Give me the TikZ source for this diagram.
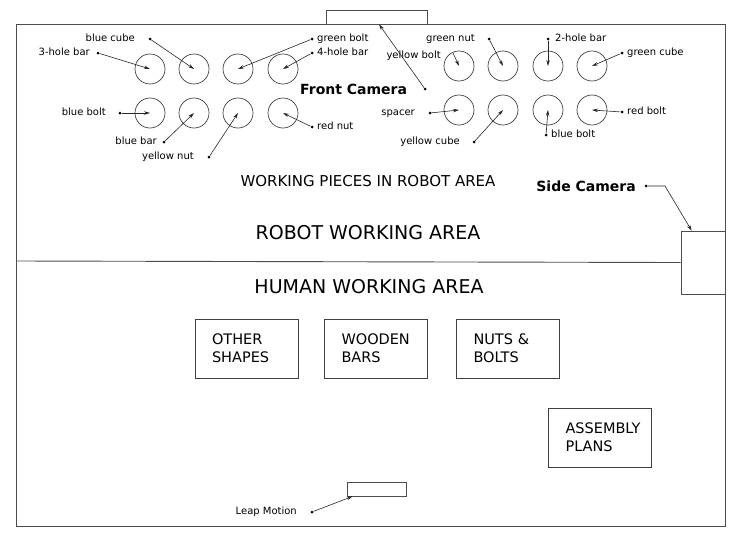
\documentclass[tikz,border=0pt]{standalone}
\usepackage{fontspec}
\setmainfont{DejaVu Sans}
\usetikzlibrary{arrows.meta}

\begin{document}
\begin{tikzpicture}[x=1pt, y=-1pt, >={Stealth[length=6pt, width=3.5pt]}]
        \tikzset{%
         every piece/.style={
            circle,
            draw=black!75,
            line width=0.7pt,
            minimum size=30pt,
            inner sep=0pt},
         piece label/.style={
            font=\fontsize{10}{12}\selectfont,
            inner sep=0pt,
            text height=7.5pt,
            text depth=2pt},
         pin dot/.style={
            circle,
            fill=black,
            inner sep=0pt,
            minimum size=3pt},
         area title/.style={
            font=\fontsize{19}{22}\selectfont},
         camera label/.style={
            font=\fontsize{14}{16}\selectfont\bfseries,
            inner sep=0pt},
         tray/.style={
            draw=black!75,
            line width=0.7pt,
            align=left,
            text width=69pt,
            inner xsep=17pt,
            minimum height=59pt,
            font=\fontsize{14.5}{18}\selectfont},
         sensor/.style={
            draw=black!70,
            line width=0.7pt,
            inner sep=0pt},
         pointer/.style={
            ->,
            draw=black!85,
            line width=0.6pt},
        }

        \useasboundingbox (0,0) rectangle (743,544);
        \draw [black!70, line width=0.9pt] (16,24) rectangle (725,526);

        % cameras and sensor
        \node [sensor, minimum width=101pt, minimum height=14pt] (front-cam) at (376.5,17) {};
        \node [sensor, minimum width=44pt, minimum height=63pt] (side-cam) at (703,262.5) {};
        \node [sensor, minimum width=59pt, minimum height=14pt] (leap) at (376.5,489) {};

        \draw [black!70, line width=0.9pt] (16,261) -- (side-cam.west);

        % pieces on the robot side
        \foreach \x [count=\i] in {150,194,238,283}
            \node [every piece/.try] (piece-\i) at (\x,69) {};
        \foreach \x [count=\i from 5] in {150,194,238,283}
            \node [every piece/.try] (piece-\i) at (\x,113) {};
        \foreach \x [count=\i from 9] in {459,503,548,592}
            \node [every piece/.try] (piece-\i) at (\x,66) {};
        \foreach \x [count=\i from 13] in {459,503,548,592}
            \node [every piece/.try] (piece-\i) at (\x,110) {};

        \foreach \l/\a/\lx/\ly/\dx/\dy/\p in {
            3-hole bar/east/90/53/98/53/1,
            blue cube/east/135/39/150/39/2,
            green bolt/west/317/39/312/39/3,
            4-hole bar/west/317/53/312/53/4,
            blue bolt/east/106/113/120/113/5,
            blue bar/east/157/142/164/142/6,
            yellow nut/east/194/157/209/157/7,
            red nut/west/317/127/312/127/8,
            green nut/east/475/39/489/39/10,
            2-hole bar/west/555/39/548/39/11,
            green cube/west/627/53/622/53/12,
            spacer/east/415/113/430/113/13,
            yellow cube/east/460/142/474/142/14,
            blue bolt/west/551/135/546/135/15,
            red bolt/west/627/112/622/112/16}
        {
            \node [pin dot] (dot-\p) at (\dx,\dy) {};
            \node [piece label, anchor=\a] (label-\p) at (\lx,\ly) {\l};
            \draw [pointer] (dot-\p) -- (piece-\p.center);
        }

        \node [piece label, anchor=east] (label-9) at (441,56) {yellow bolt};
        \coordinate (start-9) at (453,53);
        \draw [pointer] (start-9) -- (piece-9.center);

        % camera pointers
        \node [camera label, anchor=west] (front-label) at (300,89) {Front Camera};
        \node [pin dot] (dot-front) at (425,89) {};
        \draw [pointer] (dot-front) -- ([xshift=2.5pt]front-cam.south);

        \node [camera label, anchor=east] (side-label) at (636,186) {Side Camera};
        \node [pin dot] (dot-side) at (646,186) {};
        \draw [pointer] (dot-side) -- ++(19,0) -- ([xshift=11pt]side-cam.north west);

        \node [piece label, anchor=east] (leap-label) at (297,512) {Leap Motion};
        \node [pin dot] (dot-leap) at (312,512) {};
        \draw [pointer] (dot-leap) -- ([xshift=6pt]leap.south west);

        % area titles
        \node [font=\fontsize{15}{18}\selectfont] (pieces-title) at (368,181) {WORKING PIECES IN ROBOT AREA};
        \node [area title] (robot-title) at (368,233) {ROBOT WORKING AREA};
        \node [area title] (human-title) at (369,287) {HUMAN WORKING AREA};

        % trays on the human side
        \node [tray] (other) at (246.5,348.5) {OTHER\\SHAPES};
        \node [tray] (wooden) at (376,348.5) {WOODEN\\BARS};
        \node [tray] (nuts) at (508,348.5) {NUTS \&\\BOLTS};
        \node [tray] (plans) at (600,437.5) {ASSEMBLY\\PLANS};
    \end{tikzpicture}
\end{document}
